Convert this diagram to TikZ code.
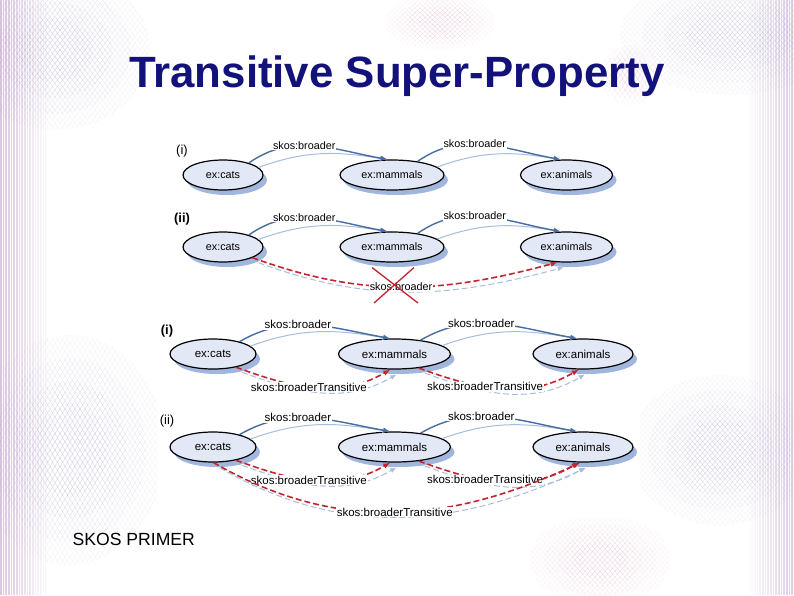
\documentclass[tikz,border=0pt]{standalone}
\usepackage{fontspec}
\setmainfont{Liberation Sans}
\usetikzlibrary{arrows.meta,shapes.geometric,shadows}
\definecolor{titleblue}{RGB}{18,18,122}
\definecolor{nodefill}{RGB}{226,232,245}
\definecolor{nshadow}{RGB}{160,182,220}
\definecolor{bdark}{RGB}{72,108,160}
\definecolor{blight}{RGB}{165,190,222}
\definecolor{rdash}{RGB}{196,36,48}
\definecolor{bgpink}{RGB}{222,140,185}
\definecolor{bglav}{RGB}{140,140,200}
\tikzset{
  concept/.style={ellipse,draw=black,line width=1.2pt,fill=nodefill,inner sep=0pt,
    minimum height=30pt,
    drop shadow={shadow xshift=4pt,shadow yshift=-5pt,fill=nshadow,opacity=1}},
  topfont/.style={font=\fontsize{10.8}{12}\selectfont},
  botfont/.style={font=\fontsize{11.5}{13}\selectfont},
  bro/.style={draw=bdark,line width=1.4pt,-{Latex[length=7pt,width=5.5pt]}},
  brosh/.style={draw=blight,line width=1pt,-{Latex[length=6pt,width=5pt]}},
  trans/.style={draw=rdash,line width=1.6pt,dash pattern=on 6pt off 3pt,-{Latex[length=7pt,width=5.5pt]}},
  transsh/.style={draw=blight,line width=1pt,dash pattern=on 6pt off 3pt,-{Latex[length=6pt,width=5pt]},
    transform canvas={shift={(6pt,-5pt)}}},
  lab/.style={fill=white,inner sep=0.8pt},
  rowlab/.style={font=\fontsize{13}{15}\selectfont,anchor=center},
  panel/.style={fill=white,draw=none},
  bgline/.style={line width=.35pt},
}
\newcommand{\meshblob}[6]{% cx, cy, rx, ry, slope dx, colour
  \foreach \s/\o in {1/.09,.8/.09,.6/.1,.4/.1}{
    \begin{scope}
      \clip (#1,#2) ellipse [x radius=\s*#3, y radius=\s*#4];
      \foreach \k in {-240,-235,...,240}{
        \draw[bgline,#6,opacity=\o] (#1+\k-#5,#2-#4) -- (#1+\k+#5,#2+#4);
        \draw[bgline,#6,opacity=\o] (#1+\k+#5,#2-#4) -- (#1+\k-#5,#2+#4);
      }
    \end{scope}
  }%
}
\begin{document}
\begin{tikzpicture}[x=1pt,y=-1pt]
\useasboundingbox (0,0) rectangle (794,595);
\fill[white] (0,0) rectangle (794,595);

% ---------- background texture ----------
\foreach \i in {0,1.6,...,48}{
  \pgfmathsetmacro\op{0.5*(1-\i/50)}
  \draw[bgline,bgpink!55!bglav,opacity=\op] (\i,0) -- (\i,595);
}
\foreach \i in {0,1.6,...,46}{
  \pgfmathsetmacro\op{0.45*(1-\i/48)}
  \draw[bgline,bgpink!50!bglav,opacity=\op] (794-\i,0) -- (794-\i,595);
}
\meshblob{70}{450}{95}{115}{70}{bglav}
\meshblob{55}{50}{95}{80}{60}{bglav}
\meshblob{730}{35}{110}{60}{55}{bglav}
\meshblob{720}{450}{90}{75}{65}{bglav}
\meshblob{440}{22}{55}{28}{30}{bgpink}
\meshblob{630}{75}{30}{30}{20}{bgpink}
\meshblob{600}{560}{70}{45}{40}{bgpink}

% ---------- title and footer ----------
\node[anchor=base west,inner sep=0pt,text=titleblue,font=\fontsize{43.8}{47}\selectfont\bfseries]
  (title) at (129,87) {Transitive Super-Property};
\node[anchor=base west,inner sep=0pt,font=\fontsize{17.6}{20}\selectfont]
  (footer) at (72.5,545.5) {SKOS PRIMER};

% ---------- panels ----------
\fill[panel] (167,138) rectangle (620,304);
\fill[panel] (157,319) rectangle (640,518);

% ---------- top panel ----------
\begin{scope}[topfont]
\node[rowlab] (ri1) at (182,151) {(i)};
\node[rowlab,font=\fontsize{13}{15}\selectfont\bfseries] (rii1) at (182,219) {(ii)};

\node[concept,minimum width=80pt] (c1) at (223,175) {ex:cats};
\node[concept,minimum width=104pt] (m1) at (392,175) {ex:mammals};
\node[concept,minimum width=92pt] (a1) at (566.5,175) {ex:animals};

\node[concept,minimum width=80pt] (c2) at (223,247) {ex:cats};
\node[concept,minimum width=104pt] (m2) at (392,247) {ex:mammals};
\node[concept,minimum width=92pt] (a2) at (566.5,247) {ex:animals};

% row i
\draw[brosh] (c1.12) to[out=20,in=170] (m1.112);
\draw[bro] (c1.25) to[out=35,in=170] node[lab,pos=.42] {skos:broader} (m1.105);
\draw[brosh] (m1.10) to[out=20,in=170] (a1.114);
\draw[bro] (m1.28) to[out=35,in=170] node[lab,pos=.42] {skos:broader} (a1.110);
% row ii
\draw[brosh] (c2.12) to[out=20,in=170] (m2.112);
\draw[bro] (c2.25) to[out=35,in=170] node[lab,pos=.42] {skos:broader} (m2.105);
\draw[brosh] (m2.10) to[out=20,in=170] (a2.114);
\draw[bro] (m2.28) to[out=35,in=170] node[lab,pos=.42] {skos:broader} (a2.110);
\draw[transsh] (c2.-20) to[out=-20,in=-165] (a2.-120);
\draw[trans] (c2.-20) to[out=-20,in=-165] node[lab,pos=.49] (xl) {skos:broader} (a2.-120);
\draw[rdash,line width=1.3pt] (372,267.5) -- (418,303);
\draw[rdash,line width=1.3pt] (414,267.5) -- (374,303);
\end{scope}

% ---------- bottom panel ----------
\begin{scope}[botfont]
\node[rowlab,font=\fontsize{13}{15}\selectfont\bfseries] (ri2) at (167,331) {(i)};
\node[rowlab] (rii2) at (167,421) {(ii)};

\node[concept,minimum width=86pt] (c3) at (213,354) {ex:cats};
\node[concept,minimum width=112pt] (m3) at (394.5,354) {ex:mammals};
\node[concept,minimum width=100pt] (a3) at (583,354) {ex:animals};

\node[concept,minimum width=86pt] (c4) at (213,447) {ex:cats};
\node[concept,minimum width=112pt] (m4) at (394.5,447) {ex:mammals};
\node[concept,minimum width=100pt] (a4) at (583,447) {ex:animals};

% row i
\draw[brosh] (c3.12) to[out=20,in=170] (m3.112);
\draw[bro] (c3.25) to[out=30,in=170] node[lab,pos=.4] {skos:broader} (m3.105);
\draw[brosh] (m3.10) to[out=20,in=170] (a3.114);
\draw[bro] (m3.28) to[out=30,in=170] node[lab,pos=.4] {skos:broader} (a3.110);
\draw[transsh] (c3.-30) to[out=-20,in=-150] (m3.-105);
\draw[trans] (c3.-30) to[out=-20,in=-150] node[lab,pos=.46] {skos:broaderTransitive} (m3.-105);
\draw[transsh] (m3.-30) to[out=-20,in=-150] (a3.-105);
\draw[trans] (m3.-30) to[out=-20,in=-150] node[lab,pos=.4] {skos:broaderTransitive} (a3.-105);
% row ii
\draw[brosh] (c4.12) to[out=20,in=170] (m4.112);
\draw[bro] (c4.25) to[out=30,in=170] node[lab,pos=.4] {skos:broader} (m4.105);
\draw[brosh] (m4.10) to[out=20,in=170] (a4.114);
\draw[bro] (m4.28) to[out=30,in=170] node[lab,pos=.4] {skos:broader} (a4.110);
\draw[transsh] (c4.-30) to[out=-20,in=-150] (m4.-105);
\draw[trans] (c4.-30) to[out=-20,in=-150] node[lab,pos=.46] {skos:broaderTransitive} (m4.-105);
\draw[transsh] (m4.-30) to[out=-20,in=-150] (a4.-105);
\draw[trans] (m4.-30) to[out=-20,in=-150] node[lab,pos=.4] {skos:broaderTransitive} (a4.-105);
\draw[transsh] (c4.-88) to[out=-30,in=-155] (a4.-100);
\draw[trans] (c4.-88) to[out=-30,in=-155] node[lab,pos=.5] {skos:broaderTransitive} (a4.-100);
\end{scope}
\end{tikzpicture}
\end{document}
